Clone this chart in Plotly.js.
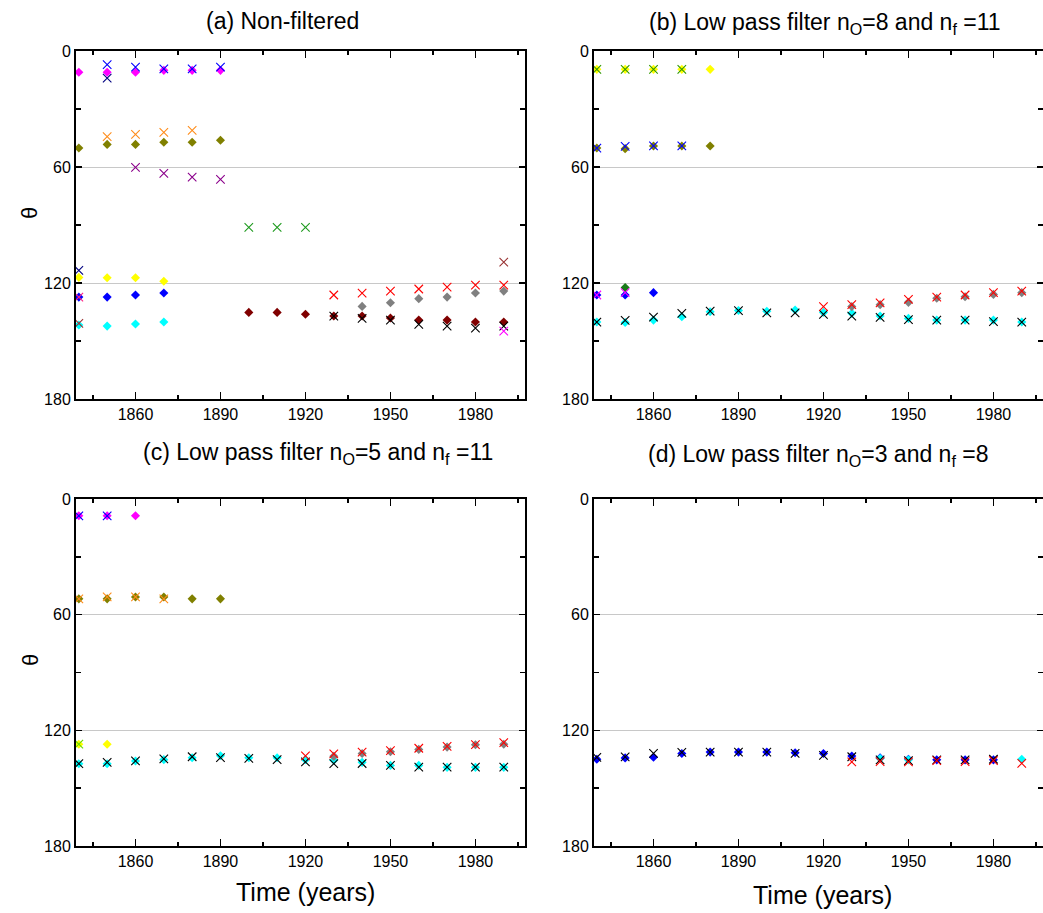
<!DOCTYPE html>
<html>
<head>
<meta charset="utf-8">
<script src="https://cdn.plot.ly/plotly-3.0.1.min.js"></script>
<style>html,body{margin:0;padding:0;background:#fff;}#chart{width:1043px;height:913px;}</style>
</head>
<body>
<div id="chart"></div>
<script>
// ---------- DATA ----------
const yearsAll = [1840,1850,1860,1870,1880,1890,1900,1910,1920,1930,1940,1950,1960,1970,1980,1990];
const xTickVals = [1860,1890,1920,1950,1980];
const yTickVals = [0,60,120,180];
const panelTitles = [
  "(a) Non-filtered",
  "(b) Low pass filter n<sub>O</sub>=8 and n<sub>f</sub> =11",
  "(c) Low pass filter n<sub>O</sub>=5 and n<sub>f</sub> =11",
  "(d) Low pass filter n<sub>O</sub>=3 and n<sub>f</sub> =8"
];
const xTitle = "Time (years)";
const yTitle = "θ";

// Panel (a) non-filtered
const a_magenta_d_years = [1840,1850,1860,1870,1880,1890];
const a_magenta_d_theta = [11,11,11,10,10,10];
const a_olive_d_years = [1840,1850,1860,1870,1880,1890];
const a_olive_d_theta = [50.2,48.3,48.3,47.2,47.2,46.2];
const a_yellow_d_years = [1840,1850,1860,1870];
const a_yellow_d_theta = [117.1,117.3,117.3,119.1];
const a_blue_d_years = [1840,1850,1860,1870];
const a_blue_d_theta = [127.3,127.3,126.2,125.2];
const a_cyan_d_years = [1840,1850,1860,1870];
const a_cyan_d_theta = [141.7,142.3,141.2,140.2];
const a_maroon_d_years = [1900,1910,1920,1930,1940,1950,1960,1970,1980,1990];
const a_maroon_d_theta = [135.2,135.2,136.2,137.1,137.1,138.1,139.2,139.2,140.2,140.2];
const a_gray_d_years = [1940,1950,1960,1970,1980,1990];
const a_gray_d_theta = [132.1,130.2,128.1,127.3,125.2,124.2];
const a_blue_x_years = [1850,1860,1870,1880,1890];
const a_blue_x_theta = [7.1,8.3,9.3,9.3,8.3];
const a_navy_x_years = [1840,1850];
const a_navy_x_theta = [113.5,14];
const a_orange_x_years = [1850,1860,1870,1880];
const a_orange_x_theta = [44.3,43.1,42.1,41];
const a_purple_x_years = [1860,1870,1880,1890];
const a_purple_x_theta = [60.2,63.3,65.2,66.4];
const a_green_x_years = [1900,1910,1920];
const a_green_x_theta = [91.2,91.2,91.2];
const a_pink_x_years = [1840];
const a_pink_x_theta = [127.3];
const a_brown_x_years = [1840,1990];
const a_brown_x_theta = [140.9,109.2];
const a_black_x_years = [1930,1940,1950,1960,1970,1980,1990];
const a_black_x_theta = [137.1,138.3,139.2,141.4,142.3,143.3,142.3];
const a_red_x_years = [1930,1940,1950,1960,1970,1980,1990];
const a_red_x_theta = [126.2,125.2,124.2,123.1,122.1,121.1,121.1];
const a_magenta_x_years = [1990];
const a_magenta_x_theta = [144.9];

// Panel (b) n_O=8, n_f=11
const b_yellow_d_years = [1840,1850,1860,1870,1880];
const b_yellow_d_theta = [9.5,9.5,9.5,9.5,9.5];
const b_olive_d_years = [1840,1850,1860,1870,1880];
const b_olive_d_theta = [50.2,50.5,49.1,49.1,49.1];
const b_blue_d_years = [1840,1850,1860];
const b_blue_d_theta = [126.2,126.2,125];
const b_green_d_years = [1850];
const b_green_d_theta = [122.3];
const b_cyan_d_theta = [140.2,140.4,139.2,137.4,134.9,134.2,134.6,134,135.2,135.7,137.1,138.3,139.2,139.2,139.2,140.2];
const b_gray_d_years = [1930,1940,1950,1960,1970,1980,1990];
const b_gray_d_theta = [132.2,131.2,130,127.9,127.1,125.9,125];
const b_green_x_years = [1840,1850,1860,1870];
const b_green_x_theta = [9.5,9.5,9.5,9.5];
const b_blue_x_years = [1840,1850,1860,1870];
const b_blue_x_theta = [50.2,49.3,49.1,49.1];
const b_magenta_x_years = [1840,1850];
const b_magenta_x_theta = [126.2,125];
const b_black_x_theta = [140.2,139.3,137.6,135.7,134.5,134.3,135.4,135.4,136.2,137.1,137.8,139,139.2,139.2,140,140.2];
const b_red_x_years = [1920,1930,1940,1950,1960,1970,1980,1990];
const b_red_x_theta = [132.2,131.2,130.3,128.5,127.3,126.2,125,124.2];

// Panel (c) n_O=5, n_f=11
const c_magenta_d_years = [1840,1850,1860];
const c_magenta_d_theta = [8.7,8.7,8.7];
const c_olive_d_years = [1840,1850,1860,1870,1880,1890];
const c_olive_d_theta = [51.8,51.8,50.8,50.8,51.8,51.8];
const c_yellow_d_years = [1840,1850];
const c_yellow_d_theta = [127.2,127.2];
const c_cyan_d_theta = [137.3,137.3,135.9,135.2,134.2,133.2,134.2,134.2,135.2,135.5,136.6,138.2,138.2,139.2,139.2,139.2];
const c_gray_d_years = [1930,1940,1950,1960,1970,1980,1990];
const c_gray_d_theta = [133.5,132,131.1,129.9,128.7,127.5,127.2];
const c_blue_x_years = [1840,1850];
const c_blue_x_theta = [8.7,8.7];
const c_orange_x_years = [1840,1850,1860,1870];
const c_orange_x_theta = [51.8,50.8,50.8,51.8];
const c_lime_x_years = [1840];
const c_lime_x_theta = [127.2];
const c_black_x_theta = [137.3,136.6,135.9,134.8,133.7,134.2,134.5,135.2,136.4,137.3,137.2,138.2,139.1,139.1,139.1,139.1];
const c_red_x_years = [1920,1930,1940,1950,1960,1970,1980,1990];
const c_red_x_theta = [133.2,132.2,131.3,130.5,129.3,128.3,127.4,126.4];

// Panel (d) n_O=3, n_f=8
const d_blue_d_years = [1840,1850,1860,1870,1880,1890,1900,1910,1920,1930,1940,1950,1960,1970,1980];
const d_blue_d_theta = [135,134.3,134,132,131.3,131.3,131.3,131.6,132,133.3,134.3,135,135.3,135.3,135.3];
const d_cyan_d_years = [1940,1950,1990];
const d_cyan_d_theta = [134.6,135.3,135];
const d_black_x_years = [1840,1850,1860,1870,1880,1890,1900,1910,1920,1930,1940,1950,1960,1970,1980];
const d_black_x_theta = [134,133.8,132,131.4,131.3,131.3,131.3,132,133,133.7,135.3,135.7,135.3,135.3,135];
const d_red_x_years = [1930,1940,1950,1960,1970,1980,1990];
const d_red_x_theta = [136.4,136.2,136.4,135.7,136.2,135.7,137.1];

// ---------- BUILD ----------
const W = 1043, H = 913;
const FONT = "Liberation Sans, Arial, sans-serif";
function px(x){ return x / W; }
function py(y){ return 1 - y / H; }

function dia(xs, ys, color, ax){
  return {type:'scatter', mode:'markers', x:xs, y:ys, xaxis:'x'+ax, yaxis:'y'+ax,
    marker:{symbol:'diamond', size:7, color:color, line:{width:0}}, showlegend:false, hoverinfo:'x+y'};
}
function cross(xs, ys, color, ax){
  return {type:'scatter', mode:'markers', x:xs, y:ys, xaxis:'x'+ax, yaxis:'y'+ax,
    marker:{symbol:'x-thin-open', size:8.5, color:color, line:{width:1.1, color:color}}, showlegend:false, hoverinfo:'x+y'};
}
const C = {magenta:'#FF00FF', olive:'#808000', yellow:'#FFFF00', blue:'#0000FF', cyan:'#00FFFF',
  maroon:'#800000', gray:'#808080', navy:'#000080', orange:'#FF8C1A', purple:'#8B008B', green:'#1E9A1E',
  pink:'#FF2080', brown:'#993333', black:'#000000', red:'#FF0000', green2:'#2E9900', lime:'#66DD00', green3:'#1A7A1A'};

const traces = [
  // (a) diamonds
  dia(a_magenta_d_years, a_magenta_d_theta, C.magenta, ''),
  dia(a_olive_d_years, a_olive_d_theta, C.olive, ''),
  dia(a_yellow_d_years, a_yellow_d_theta, C.yellow, ''),
  dia(a_blue_d_years, a_blue_d_theta, C.blue, ''),
  dia(a_cyan_d_years, a_cyan_d_theta, C.cyan, ''),
  dia(a_maroon_d_years, a_maroon_d_theta, C.maroon, ''),
  dia(a_gray_d_years, a_gray_d_theta, C.gray, ''),
  // (a) crosses
  cross(a_blue_x_years, a_blue_x_theta, C.blue, ''),
  cross(a_navy_x_years, a_navy_x_theta, C.navy, ''),
  cross(a_orange_x_years, a_orange_x_theta, C.orange, ''),
  cross(a_purple_x_years, a_purple_x_theta, C.purple, ''),
  cross(a_green_x_years, a_green_x_theta, C.green, ''),
  cross(a_pink_x_years, a_pink_x_theta, C.pink, ''),
  cross(a_brown_x_years, a_brown_x_theta, C.brown, ''),
  cross(a_black_x_years, a_black_x_theta, C.black, ''),
  cross(a_red_x_years, a_red_x_theta, C.red, ''),
  cross(a_magenta_x_years, a_magenta_x_theta, C.magenta, ''),
  // (b)
  dia(b_yellow_d_years, b_yellow_d_theta, C.yellow, '2'),
  dia(b_olive_d_years, b_olive_d_theta, C.olive, '2'),
  dia(b_blue_d_years, b_blue_d_theta, C.blue, '2'),
  dia(b_green_d_years, b_green_d_theta, C.green3, '2'),
  dia(yearsAll, b_cyan_d_theta, C.cyan, '2'),
  dia(b_gray_d_years, b_gray_d_theta, C.gray, '2'),
  cross(b_green_x_years, b_green_x_theta, C.green2, '2'),
  cross(b_blue_x_years, b_blue_x_theta, C.blue, '2'),
  cross(b_magenta_x_years, b_magenta_x_theta, C.magenta, '2'),
  cross(yearsAll, b_black_x_theta, C.black, '2'),
  cross(b_red_x_years, b_red_x_theta, C.red, '2'),
  // (c)
  dia(c_magenta_d_years, c_magenta_d_theta, C.magenta, '3'),
  dia(c_olive_d_years, c_olive_d_theta, C.olive, '3'),
  dia(c_yellow_d_years, c_yellow_d_theta, C.yellow, '3'),
  dia(yearsAll, c_cyan_d_theta, C.cyan, '3'),
  dia(c_gray_d_years, c_gray_d_theta, C.gray, '3'),
  cross(c_blue_x_years, c_blue_x_theta, C.blue, '3'),
  cross(c_orange_x_years, c_orange_x_theta, C.orange, '3'),
  cross(c_lime_x_years, c_lime_x_theta, C.lime, '3'),
  cross(yearsAll, c_black_x_theta, C.black, '3'),
  cross(c_red_x_years, c_red_x_theta, C.red, '3'),
  // (d)
  dia(d_blue_d_years, d_blue_d_theta, C.blue, '4'),
  dia(d_cyan_d_years, d_cyan_d_theta, C.cyan, '4'),
  cross(d_black_x_years, d_black_x_theta, C.black, '4'),
  cross(d_red_x_years, d_red_x_theta, C.red, '4')
];

// panel pixel boxes [left, right, top, bottom]
const boxes = [[76,525,51,399],[594,1043,51,399],[76,525,499,846],[594,1043,499,846]];
function xax(b){
  return {domain:[px(b[0]), px(b[1])], range:[1839,1997.5], tickmode:'array', tickvals:xTickVals,
    ticks:'inside', ticklen:7, tickwidth:1.5, tickcolor:'#000', showline:true, linewidth:2, linecolor:'#000',
    mirror:'ticks', showgrid:false, zeroline:false, fixedrange:true,
    tickfont:{family:FONT, size:16, color:'#000'},
    minor:{tickmode:'array', tickvals:[1845,1875,1905,1935,1965,1995], ticks:'inside', ticklen:4, tickcolor:'#000', showgrid:false}};
}
function yax(b){
  return {domain:[py(b[3]), py(b[2])], range:[180,0], tickmode:'array', tickvals:yTickVals,
    ticks:'inside', ticklen:6, tickwidth:1.5, tickcolor:'#000', showline:true, linewidth:2, linecolor:'#000',
    mirror:'ticks', showgrid:true, gridcolor:'#C8C8C8', gridwidth:1, zeroline:false, fixedrange:true,
    tickfont:{family:FONT, size:16, color:'#000'},
    minor:{tickmode:'array', tickvals:[30,90,150], ticks:'inside', ticklen:5, tickcolor:'#000', showgrid:false}};
}

const TS = 23;
const layout = {
  width:W, height:H, margin:{l:0,r:0,t:0,b:0}, paper_bgcolor:'#fff', plot_bgcolor:'#fff',
  showlegend:false, font:{family:FONT, color:'#000'},
  xaxis:Object.assign(xax(boxes[0]), {anchor:'y'}),   yaxis:Object.assign(yax(boxes[0]), {anchor:'x'}),
  xaxis2:Object.assign(xax(boxes[1]), {anchor:'y2'}), yaxis2:Object.assign(yax(boxes[1]), {anchor:'x2'}),
  xaxis3:Object.assign(xax(boxes[2]), {anchor:'y3'}), yaxis3:Object.assign(yax(boxes[2]), {anchor:'x3'}),
  xaxis4:Object.assign(xax(boxes[3]), {anchor:'y4'}), yaxis4:Object.assign(yax(boxes[3]), {anchor:'x4'}),
  annotations:[
    {text:panelTitles[0], x:px(282), y:py(21), xref:'paper', yref:'paper', showarrow:false, xanchor:'center', yanchor:'middle', font:{size:TS}},
    {text:panelTitles[1], x:px(825), y:py(23), xref:'paper', yref:'paper', showarrow:false, xanchor:'center', yanchor:'middle', font:{size:TS}},
    {text:panelTitles[2], x:px(318), y:py(453), xref:'paper', yref:'paper', showarrow:false, xanchor:'center', yanchor:'middle', font:{size:TS}},
    {text:panelTitles[3], x:px(818), y:py(455), xref:'paper', yref:'paper', showarrow:false, xanchor:'center', yanchor:'middle', font:{size:TS}},
    {text:yTitle, x:px(30), y:py(213), xref:'paper', yref:'paper', showarrow:false, textangle:-90, xanchor:'center', yanchor:'middle', font:{size:22}},
    {text:yTitle, x:px(30), y:py(660), xref:'paper', yref:'paper', showarrow:false, textangle:-90, xanchor:'center', yanchor:'middle', font:{size:22}},
    {text:xTitle, x:px(305), y:py(892), xref:'paper', yref:'paper', showarrow:false, xanchor:'center', yanchor:'middle', font:{size:25}},
    {text:xTitle, x:px(822), y:py(895), xref:'paper', yref:'paper', showarrow:false, xanchor:'center', yanchor:'middle', font:{size:25}}
  ]
};

Plotly.newPlot('chart', traces, layout, {staticPlot:true, displayModeBar:false});
</script>
</body>
</html>
